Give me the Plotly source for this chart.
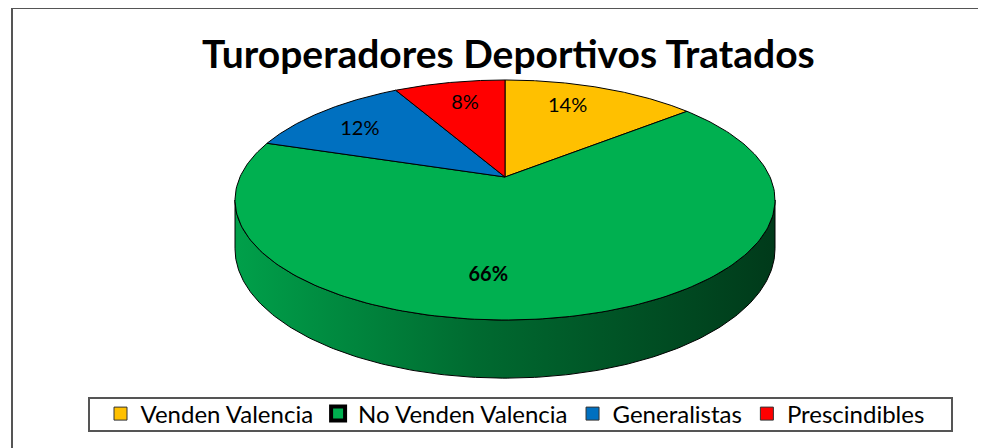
import numpy as np
import plotly.graph_objects as go

# ---- data ----
categories = ["Venden Valencia", "No Venden Valencia", "Generalistas", "Prescindibles"]
values = [14, 66, 12, 8]
title_text = "Turoperadores Deportivos Tratados"

# ---- style ----
colors = ["#FFC000", "#00B050", "#0070C0", "#FF0000"]
label_nudge = [-4, 15, -3, 1]          # degrees, label placement tweak
label_bold = [False, True, False, False]
FONT = "Lato"
PAGE_OFF = 8  # browser body margin

# perspective pie geometry (page pixels)
CX, CY = 505, 177
A, B, K = 265.0, 115.6, 0.1916
H = 47.0


def proj(theta_deg, r=1.0):
    t = np.radians(theta_deg)
    X = r * np.sin(t)
    Y = r * np.cos(t)
    w = 1 + K * Y
    return CX + A * X / w, CY - B * Y / w


total = float(sum(values))
cum = np.concatenate([[0.0], np.cumsum(values)]) / total * 360.0

fig = go.Figure()

# side wall (front visible part)
th1 = np.degrees(np.arccos(-K))
th2 = 360.0 - th1
for i in range(len(values)):
    a0, a1 = max(cum[i], th1), min(cum[i + 1], th2)
    if a1 <= a0:
        continue
    th = np.linspace(a0, a1, 200)
    xt, yt = proj(th)
    drop = H / (1 + K * np.cos(np.radians(th)))
    xs = np.concatenate([xt, xt[::-1], xt[:1]])
    ys = np.concatenate([yt, (yt + drop)[::-1], yt[:1]])
    fig.add_trace(go.Scatter(
        x=xs, y=ys, mode="lines", fill="toself",
        line=dict(color="black", width=1),
        fillcolor="#006A30",
        fillgradient=dict(type="horizontal",
                          colorscale=[[0, "#00A04A"], [0.45, "#006A30"], [1, "#003A1A"]]),
        hoverinfo="skip", showlegend=False))

# top face slices
for i in range(len(values)):
    th = np.linspace(cum[i], cum[i + 1], 200)
    xa, ya = proj(th)
    xs = np.concatenate([[CX], xa, [CX]])
    ys = np.concatenate([[CY], ya, [CY]])
    fig.add_trace(go.Scatter(
        x=xs, y=ys, mode="lines", fill="toself",
        line=dict(color="black", width=1),
        fillcolor=colors[i], hoverinfo="skip", showlegend=False))

# labels
for i in range(len(values)):
    mid = (cum[i] + cum[i + 1]) / 2 + label_nudge[i]
    lx, ly = proj(mid, 0.74)
    pct = round(values[i] / total * 100)
    fig.add_trace(go.Scatter(
        x=[lx], y=[ly], mode="text", text=[f"{pct}%"],
        textfont=dict(family=FONT, size=20, color="black",
                      weight="bold" if label_bold[i] else "normal"),
        hoverinfo="skip", showlegend=False))

# legend entries
for i, c in enumerate(categories):
    if i == 1:
        mk = dict(symbol="square", size=14, color=colors[i], line=dict(color="black", width=4))
    else:
        mk = dict(symbol="square", size=13, color=colors[i], line=dict(color="#333333", width=1))
    fig.add_trace(go.Scatter(x=[None], y=[None], mode="markers", name=c, marker=mk))

W, Hh = 986 - PAGE_OFF, 448 - PAGE_OFF
fig.update_layout(
    width=W, height=Hh,
    margin=dict(l=0, r=0, t=0, b=0),
    paper_bgcolor="white", plot_bgcolor="white",
    xaxis=dict(range=[PAGE_OFF, W + PAGE_OFF], visible=False, fixedrange=True),
    yaxis=dict(range=[Hh + PAGE_OFF, PAGE_OFF], visible=False, fixedrange=True),
    showlegend=True,
    legend=dict(orientation="h", x=(515 - PAGE_OFF) / W, xanchor="center",
                y=1 - (414 - PAGE_OFF) / Hh, yanchor="middle",
                font=dict(family=FONT, size=24, color="black"),
                itemwidth=30, tracegroupgap=0, bgcolor="rgba(0,0,0,0)"),
    annotations=[dict(x=508, y=53, xref="x", yref="y", text=f"<b>{title_text}</b>",
                      showarrow=False, font=dict(family=FONT, size=39, color="black"))],
    shapes=[
        dict(type="path", xref="x", yref="y", path="M 12,470 L 12,8 L 1010,8",
             line=dict(color="#555555", width=2), layer="below"),
        dict(type="rect", xref="x", yref="y", x0=89, y0=398, x1=952, y1=431,
             line=dict(color="#555555", width=2), layer="below"),
    ],
)

fig.write_html("out.html")
